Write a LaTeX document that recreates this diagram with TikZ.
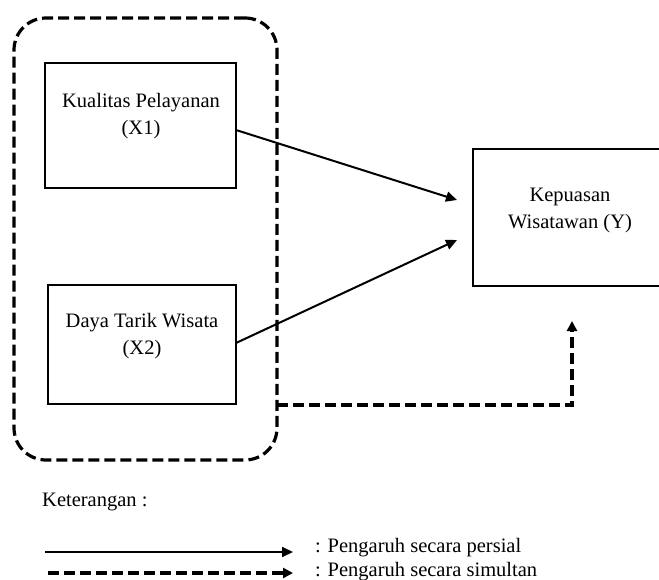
\documentclass[tikz,border=0pt]{standalone}
\usepackage{fontspec}
\setmainfont{Liberation Serif}
\usetikzlibrary{arrows.meta}
\begin{document}
\begin{tikzpicture}[x=1pt,y=-1pt,
  box/.style={draw, line width=2pt, inner sep=0pt},
  lbl/.style={align=center, font=\fontsize{20.5}{27}\selectfont, inner sep=0pt},
  grp/.style={draw, line width=3.2pt, dash pattern=on 11pt off 5pt, rounded corners=32pt, inner sep=0pt},
  solidarrow/.style={line width=2pt, -{Triangle[length=11pt,width=10pt]}},
  dasharrow/.style={line width=3.2pt, dash pattern=on 11pt off 5pt, -{Triangle[length=10pt,width=10pt]}},
  legtxt/.style={anchor=west, font=\fontsize{20.5}{24}\selectfont, inner sep=0pt}
]
\useasboundingbox (0,0) rectangle (659,580);
\node[grp, minimum width=263pt, minimum height=442pt] (g) at (145.5,239) {};
\node[box, minimum width=191pt, minimum height=125pt] (x1) at (140.5,125.5) {};
\node[lbl] (t1) at (141,116) {Kualitas Pelayanan\\(X1)};
\node[box, minimum width=188pt, minimum height=119pt] (x2) at (142,344.5) {};
\node[lbl] (t2) at (142,336) {Daya Tarik Wisata\\(X2)};
\node[box, minimum width=192pt, minimum height=137pt] (y) at (569,217.5) {};
\node[lbl] (ty) at (570,210) {Kepuasan\\Wisatawan (Y)};
\coordinate (a1s) at (236,130);
\coordinate (a1e) at (457,200);
\coordinate (a2s) at (236,343);
\coordinate (a2e) at (457,240);
\draw[solidarrow] (a1s) -- (a1e);
\draw[solidarrow] (a2s) -- (a2e);
\coordinate (d0) at (277,405);
\coordinate (d1) at (572,321);
\draw[dasharrow] (d0) -| (d1);
\node[legtxt] (ket) at (42,502) {Keterangan :};
\coordinate (l1s) at (45,552);
\coordinate (l1e) at (293,552);
\coordinate (l2s) at (48,573);
\coordinate (l2e) at (293,573);
\draw[solidarrow] (l1s) -- (l1e);
\draw[dasharrow] (l2s) -- (l2e);
\node[legtxt] (p1) at (315,548) {: Pengaruh secara persial};
\node[legtxt] (p2) at (315,572) {: Pengaruh secara simultan};
\end{tikzpicture}
\end{document}
